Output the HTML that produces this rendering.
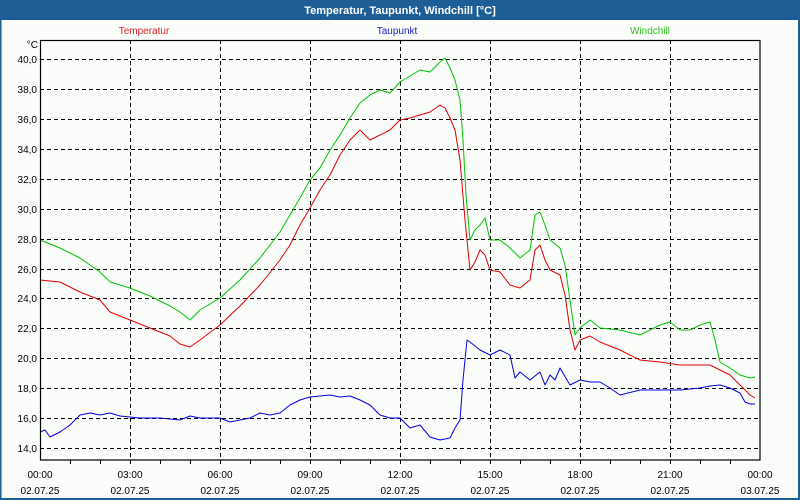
<!DOCTYPE html>
<html><head><meta charset="utf-8"><style>
html,body{margin:0;padding:0;background:#fbfdfb;}
svg{display:block;font-family:"Liberation Sans",sans-serif;}
</style></head><body>
<svg width="800" height="500" viewBox="0 0 800 500">
<rect x="0" y="0" width="800" height="500" fill="#fbfdfb"/>
<rect x="0" y="0" width="800" height="20" fill="#1d5e96"/>
<rect x="0" y="0" width="1.5" height="500" fill="#1d5e96"/>
<rect x="798" y="0" width="2" height="500" fill="#1d5e96"/>
<rect x="0" y="498" width="800" height="2" fill="#1d5e96"/>
<text x="400" y="14" fill="#fff" font-size="11" font-weight="bold" text-anchor="middle">Temperatur, Taupunkt, Windchill [°C]</text>
<text x="144" y="34" fill="#e02020" font-size="10" text-anchor="middle">Temperatur</text>
<text x="397" y="34" fill="#2020d0" font-size="10" text-anchor="middle">Taupunkt</text>
<text x="650" y="34" fill="#30c020" font-size="10" text-anchor="middle">Windchill</text>
<text x="38" y="48" font-size="10" text-anchor="end">°C</text>
<g stroke="#000" stroke-width="1" stroke-dasharray="4,3">
<line x1="40" x2="760" y1="59.5" y2="59.5"/><line x1="40" x2="760" y1="89.5" y2="89.5"/><line x1="40" x2="760" y1="119.5" y2="119.5"/><line x1="40" x2="760" y1="149.5" y2="149.5"/><line x1="40" x2="760" y1="179.5" y2="179.5"/><line x1="40" x2="760" y1="209.5" y2="209.5"/><line x1="40" x2="760" y1="239.5" y2="239.5"/><line x1="40" x2="760" y1="269.5" y2="269.5"/><line x1="40" x2="760" y1="298.5" y2="298.5"/><line x1="40" x2="760" y1="328.5" y2="328.5"/><line x1="40" x2="760" y1="358.5" y2="358.5"/><line x1="40" x2="760" y1="388.5" y2="388.5"/><line x1="40" x2="760" y1="418.5" y2="418.5"/><line x1="40" x2="760" y1="448.5" y2="448.5"/>
<line y1="40" y2="460" x1="130.5" x2="130.5"/><line y1="40" y2="460" x1="220.5" x2="220.5"/><line y1="40" y2="460" x1="310.5" x2="310.5"/><line y1="40" y2="460" x1="400.5" x2="400.5"/><line y1="40" y2="460" x1="490.5" x2="490.5"/><line y1="40" y2="460" x1="580.5" x2="580.5"/><line y1="40" y2="460" x1="670.5" x2="670.5"/>
</g>
<g font-size="10" text-anchor="end" fill="#000">
<text x="37" y="63">40,0</text><text x="37" y="93">38,0</text><text x="37" y="123">36,0</text><text x="37" y="153">34,0</text><text x="37" y="183">32,0</text><text x="37" y="213">30,0</text><text x="37" y="243">28,0</text><text x="37" y="273">26,0</text><text x="37" y="302">24,0</text><text x="37" y="332">22,0</text><text x="37" y="362">20,0</text><text x="37" y="392">18,0</text><text x="37" y="422">16,0</text><text x="37" y="452">14,0</text>
</g>
<g stroke="#000" stroke-width="1">
<line x1="70.5" x2="70.5" y1="460" y2="464"/><line x1="100.5" x2="100.5" y1="460" y2="464"/><line x1="130.5" x2="130.5" y1="460" y2="464"/><line x1="160.5" x2="160.5" y1="460" y2="464"/><line x1="190.5" x2="190.5" y1="460" y2="464"/><line x1="220.5" x2="220.5" y1="460" y2="464"/><line x1="250.5" x2="250.5" y1="460" y2="464"/><line x1="280.5" x2="280.5" y1="460" y2="464"/><line x1="310.5" x2="310.5" y1="460" y2="464"/><line x1="340.5" x2="340.5" y1="460" y2="464"/><line x1="370.5" x2="370.5" y1="460" y2="464"/><line x1="400.5" x2="400.5" y1="460" y2="464"/><line x1="430.5" x2="430.5" y1="460" y2="464"/><line x1="460.5" x2="460.5" y1="460" y2="464"/><line x1="490.5" x2="490.5" y1="460" y2="464"/><line x1="520.5" x2="520.5" y1="460" y2="464"/><line x1="550.5" x2="550.5" y1="460" y2="464"/><line x1="580.5" x2="580.5" y1="460" y2="464"/><line x1="610.5" x2="610.5" y1="460" y2="464"/><line x1="640.5" x2="640.5" y1="460" y2="464"/><line x1="670.5" x2="670.5" y1="460" y2="464"/><line x1="700.5" x2="700.5" y1="460" y2="464"/><line x1="730.5" x2="730.5" y1="460" y2="464"/>
</g>
<g font-size="10" text-anchor="middle" fill="#000">
<text x="40" y="478">00:00</text><text x="130" y="478">03:00</text><text x="220" y="478">06:00</text><text x="310" y="478">09:00</text><text x="400" y="478">12:00</text><text x="490" y="478">15:00</text><text x="580" y="478">18:00</text><text x="670" y="478">21:00</text><text x="760" y="478">00:00</text>
<text x="40" y="494">02.07.25</text><text x="130" y="494">02.07.25</text><text x="220" y="494">02.07.25</text><text x="310" y="494">02.07.25</text><text x="400" y="494">02.07.25</text><text x="490" y="494">02.07.25</text><text x="580" y="494">02.07.25</text><text x="670" y="494">02.07.25</text><text x="760" y="494">03.07.25</text>
</g>
<g fill="none" stroke-width="1" stroke-linejoin="round">
<polyline stroke="#00c000" points="40,240 60,248 80,258 100,272 110,282 130,288 150,296 170,306 180,312 190,320 200,310 220,298 240,280 260,258 280,232 290,215 300,198 310,180 320,168 330,150 340,135 350,118 360,103 370,95 380,90 390,93 400,82 410,76 420,70 430,72 440,62 445,58 450,68 455,80 460,100 463,140 466,195 470,240 475,230 480,225 485,218 490,240 500,240 510,248 520,258 530,250 535,215 540,212 545,225 550,240 560,248 565,265 570,300 575,335 580,328 590,320 600,328 620,330 640,335 650,330 660,325 670,322 680,330 690,330 700,325 710,322 715,340 720,362 730,368 740,375 750,378 755,377"/>
<polyline stroke="#e00000" points="40,280 60,282 80,292 100,300 110,312 130,320 150,328 170,336 180,344 190,347 200,340 220,325 240,306 260,285 280,260 290,245 300,225 310,208 320,190 330,175 340,155 350,140 360,130 370,140 380,135 390,130 400,120 410,118 420,115 430,112 440,105 445,108 450,118 455,130 460,160 465,220 470,270 475,262 480,250 485,255 490,270 500,272 510,285 520,288 530,280 535,250 540,245 545,260 550,270 560,275 565,295 570,330 575,350 580,340 590,336 600,342 620,350 640,360 660,362 680,365 700,365 710,365 720,370 730,375 740,385 750,395 755,398"/>
<polyline stroke="#0000e0" points="40,432 45,430 50,437 60,432 70,425 80,415 90,413 100,415 110,413 120,416 140,418 160,418 180,420 190,416 200,418 220,418 230,422 240,420 250,418 260,413 270,415 280,413 290,405 300,400 310,397 320,396 330,395 340,397 350,396 360,400 370,405 380,415 390,418 400,418 410,428 420,425 430,437 440,440 450,438 455,428 460,420 463,380 467,340 470,342 480,350 490,355 500,350 510,355 515,378 520,372 530,380 540,372 545,385 550,375 555,380 560,368 570,385 580,380 590,382 600,382 610,388 620,395 640,390 660,390 680,390 700,388 710,386 720,385 730,388 740,393 745,402 750,404 755,404"/>
</g>
<rect x="40.5" y="40.5" width="719.5" height="419.5" fill="none" stroke="#000" stroke-width="1.2"/>
</svg>
</body></html>
